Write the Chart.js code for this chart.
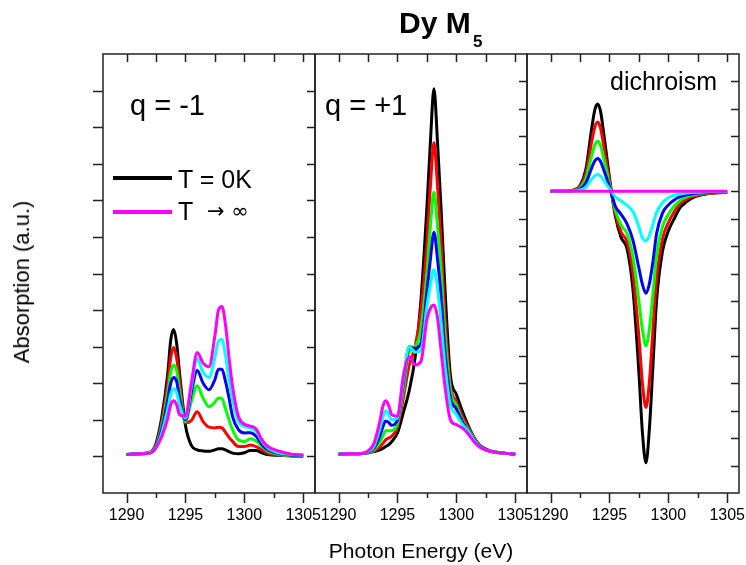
<!DOCTYPE html>
<html>
<head>
<meta charset="utf-8">
<script src="https://cdn.jsdelivr.net/npm/chart.js@4/dist/chart.umd.min.js"></script>
<style>
  body { margin: 0; background: #fff; }
  #wrap { position: relative; width: 746px; height: 565px; font-family: Arial, "Liberation Sans", sans-serif; color: #000; overflow: hidden; }
  #wrap canvas { position: absolute; left: 0; top: 0; }
  .t { position: absolute; white-space: nowrap; line-height: 1; }
  .leg { position: absolute; height: 3.5px; }
</style>
</head>
<body>
<div id="wrap">
  <canvas id="p1" width="746" height="565"></canvas>
  <canvas id="p2" width="746" height="565"></canvas>
  <canvas id="p3" width="746" height="565"></canvas>

  <div class="t" style="left:399px;top:8px;font-size:30px;font-weight:bold;">Dy M</div>
  <div class="t" style="left:473px;top:33px;font-size:17px;font-weight:bold;">5</div>

  <div class="t" style="left:130px;top:91px;font-size:29px;">q = -1</div>
  <div class="t" style="left:325px;top:91px;font-size:29px;">q = +1</div>
  <div class="t" style="left:610px;top:69px;font-size:25px;">dichroism</div>

  <div class="leg" style="left:113px;top:176px;width:59px;background:#000;"></div>
  <div class="t" style="left:178px;top:167px;font-size:25px;">T = 0K</div>
  <div class="leg" style="left:113px;top:210px;width:59px;background:#ff00ff;"></div>
  <div class="t" style="left:178px;top:199px;font-size:25px;">T</div>
  <div class="t" style="left:207px;top:201px;font-size:21px;font-family:'DejaVu Sans',sans-serif;">→ ∞</div>

  <div class="t" style="left:321px;top:540px;width:200px;text-align:center;font-size:21px;">Photon Energy (eV)</div>
  <div class="t" style="left:22px;top:282px;font-size:22px;transform:translate(-50%,-50%) rotate(-90deg);">Absorption (a.u.)</div>
</div>

<script>
// photon energy grid (eV), shared by all three panels
const energy = [1290, 1291, 1292, 1292.5, 1293, 1293.5, 1293.75, 1294, 1294.25, 1294.5,
  1295, 1295.5, 1296, 1296.5, 1297, 1297.5, 1297.8, 1298.1, 1298.4, 1298.7,
  1299, 1299.5, 1300, 1300.5, 1301, 1301.5, 1302, 1303, 1304, 1305];

const xTickValues = [1290, 1292.5, 1295, 1297.5, 1300, 1302.5, 1305];
const absTicks = [0, 1, 2, 3, 4, 5, 6, 7, 8, 9, 10];
const dichroTicks = [-10, -9, -8, -7, -6, -5, -4, -3, -2, -1, 0, 1, 2, 3, 4];

const curveColors = ['#000000', '#ff0000', '#00ff00', '#0000ff', '#00ffff', '#ff00ff'];

// q = -1
const qm_black   = [0.05, 0.07, 0.12, 0.35, 1.09, 2.27, 3.18, 3.47, 3.1, 2.27, 0.85, 0.3, 0.18, 0.15, 0.14, 0.18, 0.21, 0.21, 0.18, 0.13, 0.09, 0.07, 0.1, 0.16, 0.16, 0.1, 0.05, 0.03, 0.01, 0.01];
const qm_red     = [0.05, 0.07, 0.11, 0.3, 0.95, 2.0, 2.7, 2.98, 2.7, 2.05, 0.92, 0.98, 1.22, 0.95, 0.8, 0.78, 0.8, 0.78, 0.66, 0.52, 0.41, 0.27, 0.27, 0.31, 0.27, 0.18, 0.09, 0.04, 0.02, 0.01];
const qm_green   = [0.05, 0.07, 0.11, 0.28, 0.85, 1.75, 2.3, 2.5, 2.35, 1.8, 0.95, 1.5, 1.93, 1.59, 1.36, 1.48, 1.6, 1.58, 1.3, 1.0, 0.73, 0.45, 0.41, 0.48, 0.42, 0.27, 0.14, 0.05, 0.03, 0.02];
const qm_blue    = [0.05, 0.07, 0.1, 0.26, 0.75, 1.55, 2.0, 2.16, 2.05, 1.6, 1.0, 1.75, 2.35, 2.0, 1.82, 2.1, 2.38, 2.38, 2.05, 1.6, 1.09, 0.73, 0.64, 0.65, 0.55, 0.32, 0.18, 0.07, 0.04, 0.02];
const qm_cyan    = [0.05, 0.07, 0.1, 0.25, 0.65, 1.3, 1.7, 1.85, 1.75, 1.4, 1.05, 1.9, 2.67, 2.3, 2.16, 2.7, 3.15, 3.2, 2.75, 2.1, 1.55, 0.95, 0.82, 0.78, 0.68, 0.41, 0.23, 0.09, 0.05, 0.03];
const qm_magenta = [0.05, 0.07, 0.09, 0.24, 0.55, 1.05, 1.41, 1.52, 1.41, 1.14, 1.1, 2.0, 2.84, 2.55, 2.45, 3.3, 4.0, 4.1, 3.6, 2.7, 1.91, 1.09, 0.88, 0.83, 0.75, 0.45, 0.27, 0.14, 0.06, 0.04];

// q = +1
const qp_black   = [0.06, 0.07, 0.08, 0.1, 0.13, 0.18, 0.22, 0.27, 0.32, 0.4, 0.64, 1.2, 1.8, 2.7, 4.3, 6.8, 8.6, 10.05, 8.6, 6.8, 4.8, 2.2, 1.7, 1.25, 0.85, 0.52, 0.3, 0.14, 0.09, 0.06];
const qp_red     = [0.06, 0.07, 0.08, 0.1, 0.15, 0.25, 0.35, 0.45, 0.5, 0.55, 0.8, 1.6, 2.5, 3.0, 4.0, 5.8, 7.4, 8.58, 7.4, 5.9, 4.0, 1.95, 1.5, 1.1, 0.8, 0.5, 0.29, 0.13, 0.09, 0.06];
const qp_green   = [0.06, 0.07, 0.08, 0.11, 0.18, 0.38, 0.55, 0.7, 0.7, 0.7, 0.9, 1.8, 2.85, 3.0, 3.5, 5.0, 6.3, 7.22, 6.3, 5.1, 3.5, 1.8, 1.4, 1.0, 0.75, 0.48, 0.28, 0.13, 0.09, 0.06];
const qp_blue    = [0.06, 0.07, 0.08, 0.12, 0.22, 0.55, 0.8, 0.97, 0.93, 0.85, 1.0, 2.0, 3.0, 2.95, 3.1, 4.5, 5.4, 6.13, 5.4, 4.4, 3.0, 1.6, 1.3, 0.95, 0.72, 0.46, 0.27, 0.13, 0.09, 0.06];
const qp_cyan    = [0.06, 0.07, 0.08, 0.13, 0.27, 0.75, 1.05, 1.25, 1.15, 1.0, 1.05, 2.1, 3.0, 2.85, 2.9, 4.1, 4.7, 5.1, 4.6, 3.7, 2.6, 1.4, 1.15, 0.88, 0.7, 0.44, 0.26, 0.13, 0.09, 0.06];
const qp_magenta = [0.06, 0.07, 0.08, 0.15, 0.35, 0.95, 1.35, 1.52, 1.4, 1.15, 1.1, 2.2, 2.72, 2.5, 2.6, 3.75, 4.05, 4.14, 3.8, 2.9, 2.0, 1.0, 0.87, 0.78, 0.62, 0.4, 0.25, 0.13, 0.09, 0.06];

// dichroism
const xd_black   = [0, 0, 0.05, 0.2, 0.8, 2.3, 2.95, 3.18, 2.9, 2.15, 0.5, -0.9, -1.7, -2.1, -3.6, -6.6, -8.8, -9.9, -8.6, -6.3, -4.0, -2.2, -1.45, -1.0, -0.6, -0.4, -0.25, -0.12, -0.07, -0.04];
const xd_red     = [0, 0, 0.04, 0.16, 0.63, 1.82, 2.33, 2.52, 2.29, 1.7, 0.38, -0.8, -1.5, -1.85, -3.0, -5.3, -7.0, -7.88, -6.9, -5.0, -3.2, -1.75, -1.15, -0.75, -0.45, -0.3, -0.2, -0.1, -0.06, -0.03];
const xd_green   = [0, 0, 0.03, 0.11, 0.46, 1.31, 1.68, 1.82, 1.66, 1.23, 0.27, -0.7, -1.25, -1.55, -2.4, -4.0, -5.05, -5.64, -5.0, -3.7, -2.35, -1.3, -0.85, -0.55, -0.34, -0.22, -0.15, -0.08, -0.05, -0.03];
const xd_blue    = [0, 0, 0.02, 0.07, 0.3, 0.86, 1.1, 1.19, 1.08, 0.8, 0.17, -0.55, -0.85, -1.2, -1.8, -2.8, -3.4, -3.72, -3.35, -2.55, -1.55, -0.8, -0.5, -0.32, -0.2, -0.14, -0.1, -0.06, -0.04, -0.02];
const xd_cyan    = [0, 0, 0.01, 0.04, 0.15, 0.44, 0.56, 0.61, 0.55, 0.41, 0.09, -0.2, -0.36, -0.52, -0.75, -1.3, -1.7, -1.82, -1.6, -1.2, -0.78, -0.42, -0.24, -0.15, -0.1, -0.07, -0.05, -0.03, -0.02, -0.01];
const xd_magenta = [0, 0, 0, 0, 0, 0, 0, 0, 0, 0, 0, 0, 0, 0, 0, 0, 0, 0, 0, 0, 0, 0, 0, 0, 0, 0, 0, 0, 0, 0];

// frame, inward/outward tick marks (Origin style)
const frameTicks = {
  id: 'frameTicks',
  afterDraw(chart, args, opts) {
    const { ctx, chartArea: a, scales } = chart;
    const x = scales.x;
    ctx.save();
    ctx.strokeStyle = '#222';
    ctx.lineWidth = 1.5;
    ctx.beginPath();
    xTickValues.forEach(v => {
      const px = Math.round(x.getPixelForValue(v)) + 0.5;
      ctx.moveTo(px, a.bottom);
      ctx.lineTo(px, a.bottom + (v % 5 === 0 ? 10 : 5));
      ctx.moveTo(px, a.top);
      ctx.lineTo(px, a.top + 8);
    });
    if (opts.leftTicks) {
      const s = scales[opts.leftScale];
      opts.leftTicks.forEach(v => {
        const py = Math.round(s.getPixelForValue(v)) + 0.5;
        ctx.moveTo(a.left - 10, py);
        ctx.lineTo(a.left, py);
      });
    }
    if (opts.rightTicks) {
      const s = scales[opts.rightScale];
      opts.rightTicks.forEach(v => {
        const py = Math.round(s.getPixelForValue(v)) + 0.5;
        ctx.moveTo(a.right - 8, py);
        ctx.lineTo(a.right, py);
      });
    }
    ctx.stroke();
    ctx.strokeRect(a.left, a.top, a.right - a.left, a.bottom - a.top);
    ctx.restore();
  }
};

function makePanel(id, left, right, series, yMin, yMax, tickOpts) {
  const datasets = series.map((vals, i) => ({
    data: vals.map((v, k) => ({ x: energy[k], y: v })),
    borderColor: curveColors[i],
    backgroundColor: 'transparent',
    borderWidth: 3,
    pointRadius: 0,
    cubicInterpolationMode: 'monotone',
    borderJoinStyle: 'round',
    order: series.length - i
  }));

  new Chart(document.getElementById(id), {
    type: 'line',
    data: { datasets },
    options: {
      responsive: false,
      animation: false,
      events: [],
      layout: { padding: { left: left, right: 746 - right, top: 54, bottom: 32 } },
      plugins: {
        legend: { display: false },
        tooltip: { enabled: false },
        frameTicks: tickOpts
      },
      scales: {
        x: {
          type: 'linear',
          min: 1288,
          max: 1306,
          afterBuildTicks: s => { s.ticks = xTickValues.map(v => ({ value: v })); },
          afterFit: s => { s.height = 40; s.paddingLeft = 0; s.paddingRight = 0; },
          grid: { display: false, drawTicks: false },
          border: { display: false },
          ticks: {
            autoSkip: false,
            maxRotation: 0,
            minRotation: 0,
            padding: 13,
            color: '#000',
            font: { family: 'Arial, "Liberation Sans", sans-serif', size: 16 },
            callback: v => (v % 5 === 0 ? String(v) : '')
          }
        },
        y: { type: 'linear', min: yMin, max: yMax, display: false },
        y2: { type: 'linear', min: -11, max: 5, display: false }
      }
    },
    plugins: [frameTicks]
  });
}

makePanel('p1', 103, 315, [qm_black, qm_red, qm_green, qm_blue, qm_cyan, qm_magenta], -1, 11,
  { leftTicks: absTicks, leftScale: 'y', rightTicks: absTicks, rightScale: 'y' });
makePanel('p2', 315, 527, [qp_black, qp_red, qp_green, qp_blue, qp_cyan, qp_magenta], -1, 11,
  { rightTicks: dichroTicks, rightScale: 'y2' });
makePanel('p3', 527, 739, [xd_black, xd_red, xd_green, xd_blue, xd_cyan, xd_magenta], -11, 5,
  { rightTicks: dichroTicks, rightScale: 'y' });
</script>
</body>
</html>
